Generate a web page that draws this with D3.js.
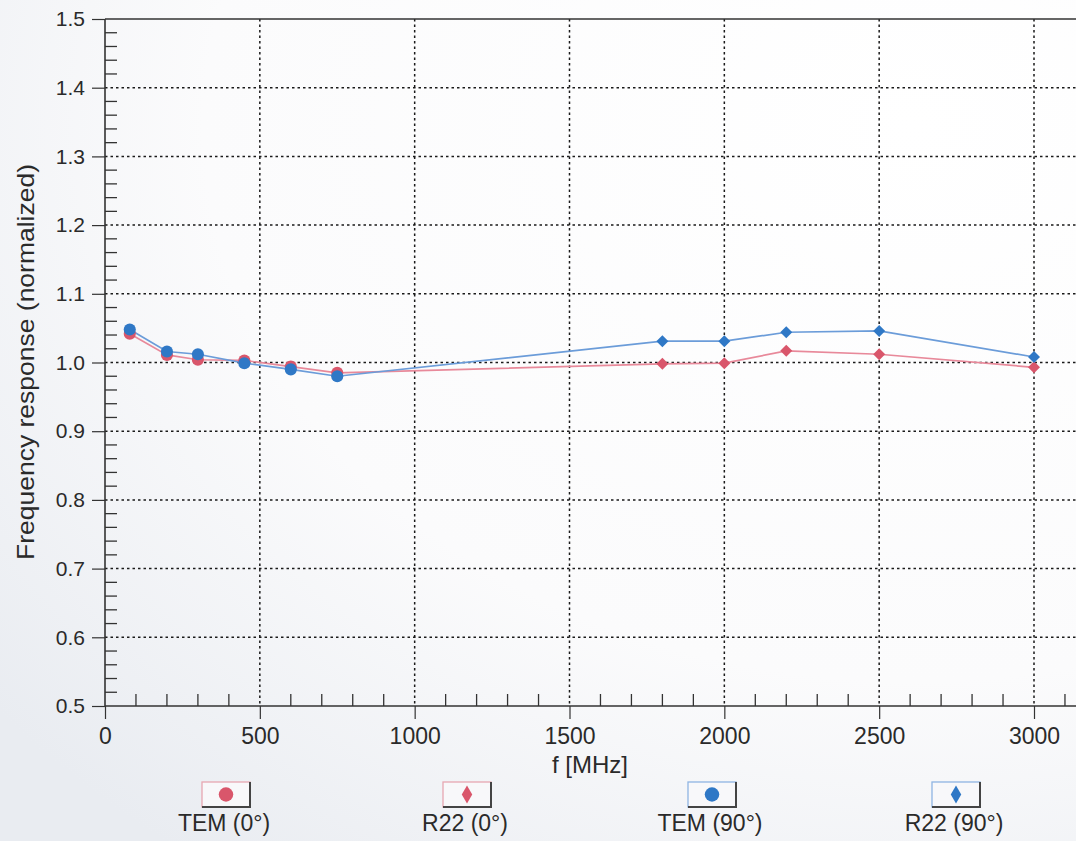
<!DOCTYPE html>
<html><head><meta charset="utf-8">
<script src="https://cdn.jsdelivr.net/npm/d3@7"></script>
<style>
html,body{margin:0;padding:0;background:#fff;}
svg{display:block;font-family:"Liberation Sans",Arial,sans-serif;}
</style></head>
<body>
<svg id="chart" width="1076" height="841"></svg>
<script>
// ---- data ----
const freqTEM = [80, 200, 300, 450, 600, 750];
const freqR22 = [1800, 2000, 2200, 2500, 3000];
const temDeg0  = [1.042, 1.011, 1.004, 1.003, 0.994, 0.985];
const temDeg90 = [1.048, 1.016, 1.012, 0.999, 0.990, 0.980];
const r22Deg0  = [0.998, 0.999, 1.017, 1.012, 0.993];
const r22Deg90 = [1.031, 1.031, 1.044, 1.046, 1.008];
const xTicks = [0, 500, 1000, 1500, 2000, 2500, 3000];
const yTicks = [0.5, 0.6, 0.7, 0.8, 0.9, 1.0, 1.1, 1.2, 1.3, 1.4, 1.5];
const legendLabels = ["TEM (0°)", "R22 (0°)", "TEM (90°)", "R22 (90°)"];

const RED = "#d9566b", BLUE = "#2f78c6";
const RED_LINE = "#e8899a", BLUE_LINE = "#6b9cd9";
const INK = "#2a2a2a";

const svg = d3.select("#chart");
const defs = svg.append("defs");
const bg = defs.append("radialGradient").attr("id","bg").attr("cx","0.85").attr("cy","0.15").attr("r","1.1");
bg.append("stop").attr("offset","0").attr("stop-color","#ffffff");
bg.append("stop").attr("offset","0.6").attr("stop-color","#fbfbfc");
bg.append("stop").attr("offset","1").attr("stop-color","#e9ecf1");
svg.append("rect").attr("width",1076).attr("height",841).attr("fill","url(#bg)");

const x = d3.scaleLinear().domain([0, 3000]).range([105, 1034]);
const y = d3.scaleLinear().domain([0.5, 1.5]).range([706, 19]);
const xEnd = x.invert(1076);

// grid
const grid = svg.append("g");
xTicks.filter(d => d > 0).forEach(d => {
  grid.append("line").attr("x1", x(d)).attr("x2", x(d)).attr("y1", y(1.5)).attr("y2", y(0.5))
    .attr("stroke", "#1a1a1a").attr("stroke-width", 1.5).attr("stroke-dasharray", "2.5,3");
});
yTicks.filter(d => d > 0.5 && d < 1.5).forEach(d => {
  grid.append("line").attr("x1", x(0)).attr("x2", 1076).attr("y1", y(d)).attr("y2", y(d))
    .attr("stroke", "#1a1a1a").attr("stroke-width", 1.5).attr("stroke-dasharray", "2.5,3");
});

// axes frame
svg.append("line").attr("x1", x(0)).attr("x2", 1076).attr("y1", y(1.5)).attr("y2", y(1.5)).attr("stroke", "#333").attr("stroke-width", 1.6);
svg.append("line").attr("x1", x(0)).attr("x2", 1076).attr("y1", y(0.5)).attr("y2", y(0.5)).attr("stroke", "#333").attr("stroke-width", 1.6);
svg.append("line").attr("x1", x(0)).attr("x2", x(0)).attr("y1", y(1.5)).attr("y2", y(0.5)).attr("stroke", "#333").attr("stroke-width", 1.6);

// y axis (major outside, minor inside)
const yAxis = svg.append("g").attr("transform", `translate(${x(0)},0)`)
  .call(d3.axisLeft(y).tickValues(yTicks).tickFormat(d3.format(".1f")).tickSize(13).tickPadding(7));
yAxis.select(".domain").remove();
yAxis.selectAll("line").attr("stroke", "#333").attr("stroke-width", 1.2);
yAxis.selectAll("text").attr("font-size", 21).attr("fill", INK).attr("font-family", "Liberation Sans, Arial, sans-serif");
const yMinor = d3.range(0.52, 1.5, 0.02).filter(v => Math.abs(v*10 - Math.round(v*10)) > 0.01);
svg.append("g").selectAll("line").data(yMinor).join("line")
  .attr("x1", x(0)).attr("x2", x(0) + 12).attr("y1", d => y(d)).attr("y2", d => y(d))
  .attr("stroke", "#333").attr("stroke-width", 1.3);

// x axis (major outside, minor inside)
const xAxis = svg.append("g").attr("transform", `translate(0,${y(0.5)})`)
  .call(d3.axisBottom(x).tickValues(xTicks).tickFormat(d3.format("d")).tickSize(13).tickPadding(9));
xAxis.select(".domain").remove();
xAxis.selectAll("line").attr("stroke", "#333").attr("stroke-width", 1.2);
xAxis.selectAll("text").attr("font-size", 23).attr("fill", INK).attr("font-family", "Liberation Sans, Arial, sans-serif");
const xMinor = d3.range(100, xEnd, 100).filter(d => d % 500 !== 0);
svg.append("g").selectAll("line").data(xMinor).join("line")
  .attr("x1", d => x(d)).attr("x2", d => x(d)).attr("y1", y(0.5)).attr("y2", y(0.5) - 12)
  .attr("stroke", "#333").attr("stroke-width", 1.3);

// labels
svg.append("text").attr("x", 590).attr("y", 773).attr("text-anchor", "middle")
  .attr("font-size", 24).attr("fill", INK).text("f [MHz]");
svg.append("text").attr("transform", `translate(34,362) rotate(-90)`).attr("text-anchor", "middle")
  .attr("font-size", 24).attr("fill", INK)
  .attr("textLength", 396).attr("lengthAdjust", "spacingAndGlyphs")
  .text("Frequency response (normalized)");

// lines
const line = d3.line().x(d => x(d[0])).y(d => y(d[1]));
const deg0 = freqTEM.map((f, i) => [f, temDeg0[i]]).concat(freqR22.map((f, i) => [f, r22Deg0[i]]));
const deg90 = freqTEM.map((f, i) => [f, temDeg90[i]]).concat(freqR22.map((f, i) => [f, r22Deg90[i]]));
svg.append("path").attr("d", line(deg0)).attr("fill", "none").attr("stroke", RED_LINE).attr("stroke-width", 1.7);
svg.append("path").attr("d", line(deg90)).attr("fill", "none").attr("stroke", BLUE_LINE).attr("stroke-width", 1.7);

// markers
const circ = d3.symbol().type(d3.symbolCircle).size(115);
const diam = d3.symbol().type(d3.symbolSquare).size(72);
function marks(xs, ys, sym, col, rot) {
  svg.append("g").selectAll("path").data(xs.map((f, i) => [f, ys[i]])).join("path")
    .attr("transform", d => `translate(${x(d[0])},${y(d[1])}) rotate(${rot})`)
    .attr("d", sym).attr("fill", col);
}
marks(freqTEM, temDeg0, circ, RED, 0);
marks(freqR22, r22Deg0, diam, RED, 45);
marks(freqTEM, temDeg90, circ, BLUE, 0);
marks(freqR22, r22Deg90, diam, BLUE, 45);

// legend
const legCx = [226, 467, 712, 956];
const legCol = [RED, RED, BLUE, BLUE];
const legBorder = ["#e7a7b2", "#e7a7b2", "#8fb4e3", "#8fb4e3"];
legendLabels.forEach((lab, i) => {
  const g = svg.append("g").attr("transform", `translate(${legCx[i]},0)`);
  g.append("rect").attr("x", -24).attr("y", 782).attr("width", 48).attr("height", 25)
    .attr("fill", "#f8f8fa").attr("stroke", legBorder[i]).attr("stroke-width", 1.3);
  g.append("path").attr("d", `M24,782 L24,807 L-24,807`).attr("fill", "none").attr("stroke", "#444").attr("stroke-width", 2);
  g.append("path").attr("transform", "translate(0,794.5)")
    .attr("d", i % 2 === 0 ? d3.symbol().type(d3.symbolCircle).size(165)() : d3.symbol().type(d3.symbolDiamond).size(95)())
    .attr("fill", legCol[i]);
  g.append("text").attr("x", -2).attr("y", 831).attr("text-anchor", "middle")
    .attr("font-size", 23).attr("fill", INK).text(lab);
});
</script>
</body></html>
